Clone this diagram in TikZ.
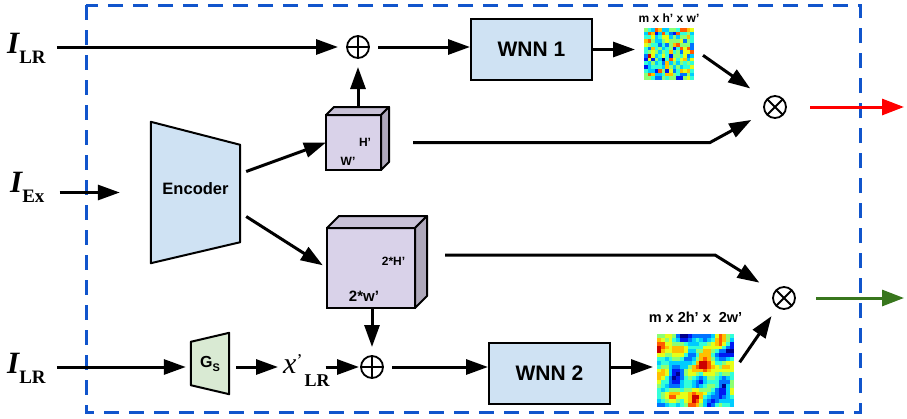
\documentclass[tikz,border=0pt]{standalone}
\usepackage{fontspec}
\setmainfont{Liberation Serif}
\setsansfont{Liberation Sans}
\usetikzlibrary{positioning,calc,arrows.meta}

\definecolor{boxblue}{HTML}{CFE2F3}
\definecolor{cubefront}{HTML}{D9D2E9}
\definecolor{gsgreen}{HTML}{D9EAD3}
\definecolor{frameblue}{HTML}{1155CC}
\definecolor{outgreen}{HTML}{38761D}
\colorlet{cubetop}{cubefront!92!black}
\colorlet{cubeside}{cubefront!80!black}
% jet colormap, 10 steps
\definecolor{jet0}{rgb}{0,0,0.55}
\definecolor{jet1}{rgb}{0,0.1,0.95}
\definecolor{jet2}{rgb}{0,0.45,1}
\definecolor{jet3}{rgb}{0,0.8,1}
\definecolor{jet4}{rgb}{0.2,1,0.85}
\definecolor{jet5}{rgb}{0.55,1,0.45}
\definecolor{jet6}{rgb}{0.9,1,0.1}
\definecolor{jet7}{rgb}{1,0.75,0}
\definecolor{jet8}{rgb}{1,0.35,0}
\definecolor{jet9}{rgb}{0.8,0,0}

\newcommand{\insym}[1]{{\fontsize{31}{31}\selectfont\bfseries\itshape I}%
  \raisebox{-10pt}{\fontsize{19}{19}\selectfont\bfseries #1}}

\begin{document}
\begin{tikzpicture}[x=1pt, y=-1pt,
  box/.style={draw, line width=2pt, fill=boxblue, minimum width=121, minimum height=61,
              font=\sffamily\bfseries\fontsize{21}{25}\selectfont},
  cube/.style={draw, line width=2pt, fill=cubefront, inner sep=0pt, outer sep=0pt},
  face/.style={draw, line width=2pt, line join=round},
  cubetxt/.style={font=\sffamily\bfseries\fontsize{#1}{#1}\selectfont, inner sep=0pt},
  dimtxt/.style={font=\sffamily\bfseries\fontsize{#1}{#1}\selectfont, inner sep=0pt},
  hmap/.style={inner sep=0pt, outer sep=0pt},
  frame/.style={draw=frameblue, line width=3pt, dash pattern=on 15pt off 10pt},
  inlbl/.style={inner sep=0pt},
  sym/.style={circle, draw, line width=1.8pt, minimum size=22, inner sep=0pt},
  oplus/.style={sym, outer sep=9pt, path picture={
      \draw[line width=1.8pt] (path picture bounding box.north) -- (path picture bounding box.south)
        (path picture bounding box.west) -- (path picture bounding box.east);}},
  otimes/.style={sym, outer sep=0pt, path picture={
      \draw[line width=1.8pt] (path picture bounding box.north west) -- (path picture bounding box.south east)
        (path picture bounding box.north east) -- (path picture bounding box.south west);}},
  arr/.style={-{Triangle[length=22pt,width=15pt]}, line width=3pt},
  outarr/.style={-{Triangle[length=22pt,width=16pt]}, line width=3pt}
]
  \useasboundingbox (0,0) rectangle (907,418);

  % dashed module frame
  \draw[frame] (86,5) rectangle (860,412);

  % inputs
  \node[inlbl, anchor=base west] (lrA) at (7,53) {\insym{LR}};
  \node[inlbl, anchor=base west] (iex) at (10,192) {\insym{Ex}};
  \node[inlbl, anchor=base west] (lrB) at (7,373) {\insym{LR}};

  % encoder and shallow generator (trapezoids)
  \node[minimum width=89, minimum height=141] (enc) at (195.5,192.5) {};
  \draw[line width=2pt, fill=boxblue, line join=round] (enc.north west) -- ([yshift=-23pt]enc.north east)
    -- ([yshift=21pt]enc.south east) -- (enc.south west) -- cycle;
  \node[font=\sffamily\bfseries\fontsize{16.5}{20}\selectfont] (encLbl) at ([yshift=4pt]enc) {Encoder};

  \node[minimum width=38, minimum height=61] (gs) at (210,363.5) {};
  \draw[line width=2pt, fill=gsgreen, line join=round] ([yshift=-9pt]gs.north west) -- (gs.north east)
    -- (gs.south east) -- ([yshift=9pt]gs.south west) -- cycle;
  \node[font=\sffamily\bfseries\fontsize{16}{20}\selectfont] (gsLbl) at (gs)
    {G\raisebox{-4pt}{\fontsize{11}{11}\selectfont S}};

  \node[inlbl, anchor=base west] (xlr) at (283,373)
    {{\fontsize{30}{30}\selectfont\itshape x}\raisebox{7pt}{\fontsize{18}{18}\selectfont'}\kern2pt%
     \raisebox{-13pt}{\fontsize{18}{18}\selectfont\bfseries LR}};

  % feature cubes
  \node[cube, minimum width=55, minimum height=55] (cubeA) at (353.5,142.5) {};
  \node[cube, minimum width=88, minimum height=80] (cubeB) at (371,268) {};

  % sum / product nodes
  \node[oplus] (opA) at (358,47) {};
  \node[oplus] (opB) at (372,367) {};
  \node[otimes] (otA) at (775,107) {};
  \node[otimes] (otB) at (784,298) {};

  % wavelet networks
  \node[box] (wnnA) at (531.5,49.5) {WNN 1};
  \node[box] (wnnB) at (549.5,373) {WNN 2};

  % coefficient maps
  \node[hmap, minimum width=50, minimum height=52] (hmA) at (669,54) {};
  \node[hmap, minimum width=77, minimum height=73] (hmB) at (695.5,370.5) {};
  \node[dimtxt=12, above=5pt of hmA] (hmAlbl) {m x h' x w'};
  \node[dimtxt=14.5, above=11pt of hmB] (hmBlbl) {m x 2h' x\ \ 2w'};

  \pgfmathsetseed{7}
  \foreach \i in {0,...,13}{
    \foreach \j in {0,...,13}{
      \pgfmathsetmacro\hv{int(round((rnd+rnd)*4.5))}
      \fill[jet\hv] ($(hmA.north west)+(\i*50/14,\j*52/14)$) rectangle ++(50/14+0.2,52/14+0.2);
    }
  }
  \foreach \i in {0,...,19}{
    \foreach \j in {0,...,18}{
      \pgfmathsetmacro\hv{int(max(0,min(9,round(4.6+1.6*sin(\i*29+\j*11+20)+1.5*cos(\i*13-\j*31+70)
        +1.3*sin(\i*47+\j*41+5)+1.1*cos(\i*7+\j*59+130)+0.9*sin(\i*61-\j*19+200)+(rnd-0.5)*1.2))))}
      \fill[jet\hv] ($(hmB.north west)+(\i*77/20,\j*73/19)$) rectangle ++(77/20+0.2,73/19+0.2);
    }
  }

  \coordinate (bendA) at (710,142.5);
  \coordinate (bendB) at (715,255);
  \coordinate (outA) at (904,107);
  \coordinate (outB) at (904,298);

  % connectors
  \draw[arr, shorten <=11pt] (lrA.east |- opA) -- (opA);
  \draw[arr] (opA) -- (opA -| wnnA.west);
  \draw[arr, shorten >=9pt] (wnnA) -- (wnnA -| hmA.west);
  \draw[arr, shorten <=11pt, shorten >=20pt] ([yshift=5pt]hmA.east) -- (otA.140);

  \draw[arr, shorten <=15pt, shorten >=31pt] (iex.east |- enc) -- (enc);
  \draw[arr] ([shift={(6pt,21pt)}]enc.east) -- (cubeA.west);
  \draw[arr, shorten >=5pt] ([shift={(6pt,-24pt)}]enc.east) -- (cubeB.west);
  \draw[arr] (cubeA.north -| opA) -- (opA);
  \draw[arr] (cubeB.south -| opB) -- (opB);

  \draw[arr, shorten <=32pt, shorten >=16pt] (cubeA.east) -- (bendA) -- (otA);
  \draw[arr, shorten <=30pt, shorten >=18pt] (cubeB.east |- bendB) -- (bendB) -- (otB);

  \draw[arr, shorten <=11pt, shorten >=5pt] (lrB.east |- opB) -- (opB -| gs.west);
  \draw[arr, shorten <=7pt, shorten >=5pt] (gs.east |- opB) -- (xlr.west |- opB);
  \draw[arr, shorten <=-4pt, shorten >=-7pt] (xlr.east |- opB) -- (opB);
  \draw[arr] (opB) -- (opB -| wnnB.west);
  \draw[arr, shorten >=4pt] (wnnB.east |- opB) -- (hmB.west |- opB);
  \draw[arr, shorten <=10pt, shorten >=11pt] (hmB.east) -- (otB);

  \draw[outarr, red, shorten <=24pt] (otA) -- (outA);
  \draw[outarr, outgreen, shorten <=21pt] (otB) -- (outB);

  % top and side faces of the cubes
  \foreach \c/\d in {cubeA/8, cubeB/12}{
    \draw[face, fill=cubetop] (\c.north west) -- ([shift={(\d pt,\d pt)}]\c.north west)
      -- ([shift={(\d pt,\d pt)}]\c.north east) -- (\c.north east) -- cycle;
    \draw[face, fill=cubeside] (\c.north east) -- ([shift={(\d pt,\d pt)}]\c.north east)
      -- ([shift={(\d pt,\d pt)}]\c.south east) -- (\c.south east) -- cycle;
  }
  \node[cubetxt=12] (hA) at ($(cubeA)+(11.5,-0.5)$) {H'};
  \node[cubetxt=12] (wA) at ($(cubeA)+(-5.5,18.5)$) {W'};
  \node[cubetxt=12] (hB) at ($(cubeB)+(22.5,-7)$) {2*H'};
  \node[cubetxt=15] (wB) at ($(cubeB)+(-7,28)$) {2*w'};
\end{tikzpicture}
\end{document}
